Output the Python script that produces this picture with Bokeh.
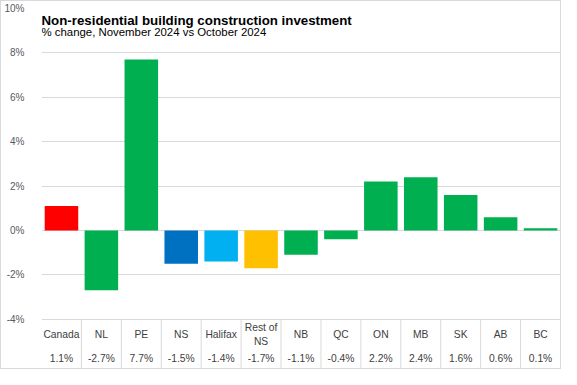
from bokeh.plotting import figure
from bokeh.models import FactorRange, Range1d, FixedTicker, PrintfTickFormatter, ColumnDataSource, Label
from bokeh.transform import dodge
from bokeh.core.properties import value
from bokeh.embed import file_html
from bokeh.resources import INLINE

# ---- data ----
categories = ["Canada", "NL", "PE", "NS", "Halifax", "Rest of NS", "NB",
              "QC", "ON", "MB", "SK", "AB", "BC"]
table_labels = ["Canada", "NL", "PE", "NS", "Halifax", "Rest of\nNS", "NB",
                "QC", "ON", "MB", "SK", "AB", "BC"]
changes = [1.1, -2.7, 7.7, -1.5, -1.4, -1.7, -1.1, -0.4, 2.2, 2.4, 1.6, 0.6, 0.1]
bar_colors = ["#FF0000", "#00B050", "#00B050", "#0070C0", "#00B0F0", "#FFC000",
              "#00B050", "#00B050", "#00B050", "#00B050", "#00B050", "#00B050", "#00B050"]
y_ticks = [-4, -2, 0, 2, 4, 6, 8, 10]
grid_ticks = [-4, -2, 0, 2, 4, 6, 8]
title_text = "Non-residential building construction investment"
subtitle_text = "% change, November  2024 vs October 2024"

FONT = "Liberation Sans"
TABLE_BOTTOM = -6.2

src = ColumnDataSource(dict(
    cat=categories,
    val=changes,
    color=bar_colors,
    lab=table_labels,
    vtxt=["{:.1f}%".format(v) for v in changes],
))

p = figure(width=561, height=369, output_backend="svg", toolbar_location=None,
           x_range=FactorRange(factors=categories, range_padding=0),
           y_range=Range1d(-6.22, 10),
           x_axis_location=None,
           min_border_left=33, min_border_right=2, min_border_top=7, min_border_bottom=2,
           background_fill_color="white", border_fill_color="white")
p.outline_line_color = None
p.styles = {"border": "1px solid #d9d9d9"}

# axes / grid
p.xgrid.visible = False
p.ygrid.ticker = FixedTicker(ticks=grid_ticks)
p.ygrid.grid_line_color = "#D9D9D9"
p.ygrid.grid_line_width = 1
yax = p.yaxis[0]
yax.ticker = FixedTicker(ticks=y_ticks)
yax.formatter = PrintfTickFormatter(format="%d%%")
yax.axis_line_color = None
yax.major_tick_line_color = None
yax.minor_tick_line_color = None
yax.major_label_text_font = FONT
yax.major_label_text_font_size = "10px"
yax.major_label_text_color = "#595959"
yax.major_label_standoff = 11
yax.bounds = (-4, 10)

# bars
p.vbar(x="cat", top="val", bottom=0, width=0.84, color="color", line_color=None, source=src)

# data table below
p.hspan(y=[TABLE_BOTTOM], line_color="#D9D9D9", line_width=1)
sep = ColumnDataSource(dict(x=categories[:-1]))
p.segment(x0=dodge("x", 0.5, range=p.x_range), y0=-4,
          x1=dodge("x", 0.5, range=p.x_range), y1=TABLE_BOTTOM,
          line_color="#D9D9D9", line_width=1, source=sep)
p.text(x="cat", y=-4.68, text="lab", source=src, text_align="center", text_baseline="middle",
       text_font=value(FONT), text_font_size="10.3px", text_color="#404040", text_line_height=1.3)
p.text(x="cat", y=-5.77, text="vtxt", source=src, text_align="center", text_baseline="middle",
       text_font=value(FONT), text_font_size="10.3px", text_color="#404040")

# titles
p.add_layout(Label(x=0, y=9.45, text=title_text, text_font=FONT, text_font_size="13.3px",
                   text_font_style="bold", text_color="#000000", text_baseline="alphabetic",
                   background_fill_color="white"))
p.add_layout(Label(x=0, y=8.92, text=subtitle_text, text_font=FONT, text_font_size="11.4px",
                   text_color="#000000", text_baseline="alphabetic"))

open("out.html", "w").write(file_html(p, INLINE))
